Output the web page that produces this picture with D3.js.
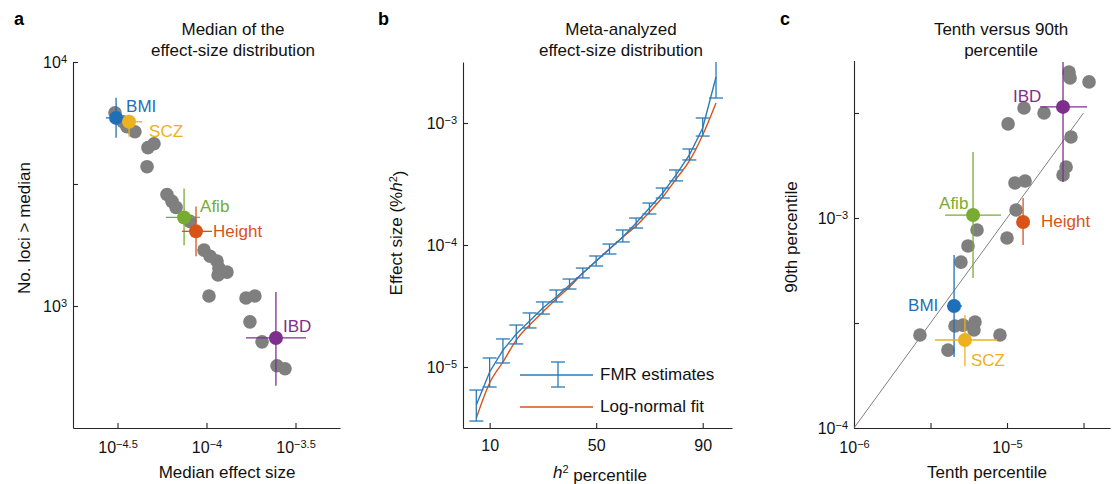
<!DOCTYPE html>
<html><head><meta charset="utf-8">
<script src="https://cdn.jsdelivr.net/npm/d3@7"></script>
<style>
html,body{margin:0;padding:0;background:#fff;}
svg{display:block;}
text{font-family:"Liberation Sans",Arial,Helvetica,sans-serif;}
</style></head>
<body>
<svg id="chart" width="1113" height="484"></svg>
<script>
// ---------------- DATA (log10 values) ----------------
// Panel a: median effect size (x) vs number of loci > median (y)
const aGrayX = [-4.514,-4.469,-4.447,-4.402,-4.329,-4.295,-4.334,-4.222,-4.194,-4.171,-4.093,-4.014,-3.980,-3.941,-3.930,-3.935,-3.885,-3.986,-3.778,-3.728,-3.756,-3.688,-3.604,-3.559];
const aGrayY = [3.792,3.755,3.735,3.714,3.649,3.665,3.571,3.457,3.429,3.404,3.347,3.229,3.204,3.184,3.155,3.127,3.139,3.041,3.033,3.041,2.935,2.853,2.755,2.743];
const traits = ["BMI","SCZ","Afib","Height","IBD"];
const aTraitX   = [-4.508,-4.435,-4.126,-4.059,-3.610];
const aTraitY   = [3.771,3.755,3.363,3.306,2.869];
const aTraitXLo = [-4.565,-4.475,-4.228,-4.138,-3.778];
const aTraitXHi = [-4.463,-4.362,-4.037,-3.969,-3.441];
const aTraitYLo = [3.690,3.694,3.249,3.204,2.673];
const aTraitYHi = [3.853,3.784,3.482,3.408,3.057];
const aXTicks = ["-4.5","-4","-3.5"];
const aYTicks = ["3","3.5","4"];
const aYTickLabels = ["3","","4"];

// Panel b: meta-analyzed effect-size distribution
const bPct    = [5,10,15,20,25,30,35,40,45,50,55,60,65,70,75,80,85,90,95];
const bFmr    = [-5.311,-5.041,-4.861,-4.730,-4.623,-4.516,-4.426,-4.328,-4.230,-4.131,-4.033,-3.934,-3.820,-3.697,-3.574,-3.426,-3.262,-3.041,-2.623];
const bFmrLo  = [-5.443,-5.164,-4.967,-4.811,-4.680,-4.566,-4.467,-4.361,-4.270,-4.172,-4.074,-3.975,-3.861,-3.746,-3.615,-3.475,-3.303,-3.107,-2.795];
const bFmrHi  = [-5.189,-4.926,-4.770,-4.656,-4.557,-4.467,-4.369,-4.279,-4.189,-4.090,-3.992,-3.877,-3.779,-3.656,-3.533,-3.385,-3.213,-2.959,-2.400];
const bFit    = [-5.418,-5.131,-4.959,-4.779,-4.656,-4.549,-4.443,-4.344,-4.230,-4.131,-4.033,-3.934,-3.844,-3.730,-3.607,-3.459,-3.311,-3.098,-2.836];
const bXTicks = [10,50,90];
const bYTicks = ["-5","-4","-3"];
const bLegend = ["FMR estimates","Log-normal fit"];

// Panel c: tenth vs 90th percentile
const cGrayX = [-4.595,-4.588,-4.464,-4.889,-4.758,-4.993,-4.582,-4.614,-4.634,-4.948,-4.882,-4.941,-5.196,-5.000,-5.255,-5.301,-5.340,-5.288,-5.209,-5.216,-5.569,-5.046,-5.386];
const cGrayY = [-2.305,-2.333,-2.352,-2.476,-2.500,-2.552,-2.614,-2.757,-2.795,-2.833,-2.824,-2.962,-3.057,-3.095,-3.133,-3.210,-3.514,-3.510,-3.495,-3.533,-3.557,-3.557,-3.629];
const cTraitX   = [-5.346,-5.275,-5.222,-4.895,-4.634];
const cTraitY   = [-3.419,-3.581,-2.986,-3.019,-2.471];
const cTraitXLo = [-5.392,-5.471,-5.405,-4.915,-4.784];
const cTraitXHi = [-5.294,-5.065,-5.039,-4.875,-4.477];
const cTraitYLo = [-3.662,-3.705,-3.286,-3.129,-2.829];
const cTraitYHi = [-3.176,-3.462,-2.686,-2.905,-2.257];
const cDiagX = [-6,-4.5];
const cDiagY = [-4,-2.5];
const cXTicks = ["-6","-5.5","-5","-4.5"];
const cXTickLabels = ["-6","","-5",""];
const cYTicks = ["-4","-3.5","-3","-2.5"];
const cYTickLabels = ["-4","","-3",""];

// ---------------- STYLE ----------------
const traitColors = {BMI:"#1f6fb8", SCZ:"#edb120", Afib:"#77ac30", Height:"#d95319", IBD:"#7e2f8e"};
const grayColor = "#7f7f7f";
const axisColor = "#262626";
const blue = "#2b7bb7", red = "#d95319";
const P = v => Math.pow(10, +v);
const svg = d3.select("#chart");

function sup(sel, base, exp){
  sel.text(null);
  sel.append("tspan").text(base);
  if (exp !== "") sel.append("tspan").attr("dy","-0.45em").attr("font-size","11px").text(exp.replace("-","\u2212"));
}
function styleAxis(g){
  g.select(".domain").attr("stroke",axisColor).attr("stroke-width",1.1);
  g.selectAll(".tick line").attr("stroke",axisColor).attr("stroke-width",1.1);
  g.selectAll(".tick text").attr("fill","#111").attr("font-size","16px").attr("font-family","Liberation Sans, Arial, sans-serif");
}
function logXAxis(g, scale, ticks, labels){
  g.call(d3.axisBottom(scale).tickValues(ticks.map(P)).tickSize(-5).tickSizeOuter(0).tickFormat(()=>""));
  styleAxis(g);
  g.selectAll(".tick text").attr("y",25).attr("dy",null).each(function(d,i){ if(labels[i]==="") d3.select(this).text(""); else sup(d3.select(this),"10",labels[i]); });
}
function logYAxis(g, scale, ticks, labels){
  g.call(d3.axisLeft(scale).tickValues(ticks.map(P)).tickSize(-5).tickSizeOuter(0).tickPadding(6).tickFormat(()=>""));
  styleAxis(g);
  g.selectAll(".tick text").each(function(d,i){ if(labels[i]==="") d3.select(this).text(""); else sup(d3.select(this),"10",labels[i]); });
}
function title(x, lines){
  lines.forEach((t,i)=> svg.append("text").attr("x",x).attr("y",35+i*21).attr("text-anchor","middle").attr("font-size","17px").attr("fill","#111").text(t));
}
function panelLabel(x, t){
  svg.append("text").attr("x",x).attr("y",25).attr("font-size","18px").attr("font-weight","bold").attr("fill","#000").text(t);
}
function yLabel(x, y, sel){
  const t = svg.append("text").attr("transform",`translate(${x},${y}) rotate(-90)`).attr("text-anchor","middle").attr("font-size","17px").attr("fill","#111");
  sel(t);
}
function xLabel(x, sel){
  const t = svg.append("text").attr("x",x).attr("y",478).attr("text-anchor","middle").attr("font-size","17px").attr("fill","#111");
  sel(t);
}
function traitLayer(g, xScale, yScale, X, Y, XLo, XHi, YLo, YHi, offsets){
  traits.forEach((tr,i)=>{
    const c = traitColors[tr];
    const cx = xScale(P(X[i])), cy = yScale(P(Y[i]));
    g.append("line").attr("x1",xScale(P(XLo[i]))).attr("x2",xScale(P(XHi[i]))).attr("y1",cy).attr("y2",cy).attr("stroke",c).attr("stroke-width",1.3);
    g.append("line").attr("x1",cx).attr("x2",cx).attr("y1",yScale(P(YLo[i]))).attr("y2",yScale(P(YHi[i]))).attr("stroke",c).attr("stroke-width",1.3);
    g.append("circle").attr("cx",cx).attr("cy",cy).attr("r",7).attr("fill",c);
    g.append("text").attr("x",cx+offsets[tr][0]).attr("y",cy+offsets[tr][1]).attr("font-size","17px").attr("fill",c).text(tr);
  });
}

// ---------------- PANEL A ----------------
{
  const x = d3.scaleLog().domain([P(-4.75),P(-3.25)]).range([73,340]);
  const y = d3.scaleLog().domain([P(2.5),P(4)]).range([428,62]);
  logXAxis(svg.append("g").attr("transform","translate(0,428)"), x, aXTicks, aXTicks);
  logYAxis(svg.append("g").attr("transform","translate(73,0)"), y, aYTicks, aYTickLabels);
  const g = svg.append("g");
  g.selectAll("circle.gray").data(aGrayX).join("circle").attr("class","gray")
    .attr("cx",(d)=>x(P(d))).attr("cy",(d,i)=>y(P(aGrayY[i]))).attr("r",6.8).attr("fill",grayColor);
  traitLayer(g, x, y, aTraitX, aTraitY, aTraitXLo, aTraitXHi, aTraitYLo, aTraitYHi,
    {BMI:[10,-6], SCZ:[20,15], Afib:[16,-5], Height:[17,6], IBD:[7,-6]});
  title(233, ["Median of the","effect-size distribution"]);
  panelLabel(14, "a");
  yLabel(30, 228, t=>t.text("No. loci > median"));
  xLabel(227, t=>t.text("Median effect size"));
}

// ---------------- PANEL B ----------------
{
  const x = d3.scaleLinear().domain([0,101]).range([463,732]);
  const y = d3.scaleLog().domain([P(-5.5),P(-2.5)]).range([428,62]);
  const gx = svg.append("g").attr("transform","translate(0,428)");
  gx.call(d3.axisBottom(x).tickValues(bXTicks).tickSize(-5).tickSizeOuter(0).tickPadding(12));
  styleAxis(gx);
  logYAxis(svg.append("g").attr("transform","translate(463,0)"), y, bYTicks, bYTicks);
  svg.append("clipPath").attr("id","clipb").append("rect").attr("x",463).attr("y",62).attr("width",280).attr("height",366);
  const g = svg.append("g").attr("clip-path","url(#clipb)");
  g.append("path").datum(bFit).attr("fill","none").attr("stroke",red).attr("stroke-width",1.4)
    .attr("d", d3.line().x((d,i)=>x(bPct[i])).y(d=>y(P(d))).curve(d3.curveMonotoneX));
  g.append("path").datum(bFmr).attr("fill","none").attr("stroke",blue).attr("stroke-width",1.4)
    .attr("d", d3.line().x((d,i)=>x(bPct[i])).y(d=>y(P(d))));
  const eb = g.selectAll("g.eb").data(bPct).join("g").attr("class","eb");
  eb.append("line").attr("x1",d=>x(d)).attr("x2",d=>x(d)).attr("y1",(d,i)=>y(P(bFmrLo[i]))).attr("y2",(d,i)=>y(P(bFmrHi[i]))).attr("stroke",blue).attr("stroke-width",1.3);
  eb.append("line").attr("x1",d=>x(d)-7).attr("x2",d=>x(d)+7).attr("y1",(d,i)=>y(P(bFmrLo[i]))).attr("y2",(d,i)=>y(P(bFmrLo[i]))).attr("stroke",blue).attr("stroke-width",1.3);
  eb.append("line").attr("x1",d=>x(d)-7).attr("x2",d=>x(d)+7).attr("y1",(d,i)=>y(P(bFmrHi[i]))).attr("y2",(d,i)=>y(P(bFmrHi[i]))).attr("stroke",blue).attr("stroke-width",1.3);
  // legend
  const lg = svg.append("g");
  lg.append("line").attr("x1",520).attr("x2",593).attr("y1",375).attr("y2",375).attr("stroke",blue).attr("stroke-width",1.4);
  lg.append("line").attr("x1",558).attr("x2",558).attr("y1",362).attr("y2",387).attr("stroke",blue).attr("stroke-width",1.3);
  lg.append("line").attr("x1",551).attr("x2",565).attr("y1",362).attr("y2",362).attr("stroke",blue).attr("stroke-width",1.3);
  lg.append("line").attr("x1",551).attr("x2",565).attr("y1",387).attr("y2",387).attr("stroke",blue).attr("stroke-width",1.3);
  lg.append("text").attr("x",600).attr("y",380).attr("font-size","17px").attr("fill","#111").text(bLegend[0]);
  lg.append("line").attr("x1",520).attr("x2",593).attr("y1",407).attr("y2",407).attr("stroke",red).attr("stroke-width",1.4);
  lg.append("text").attr("x",600).attr("y",412).attr("font-size","17px").attr("fill","#111").text(bLegend[1]);
  title(621, ["Meta-analyzed","effect-size distribution"]);
  panelLabel(378, "b");
  yLabel(402, 233, t=>{
    t.append("tspan").text("Effect size (%");
    t.append("tspan").attr("font-style","italic").text("h");
    t.append("tspan").attr("dy","-0.45em").attr("font-size","11px").text("2");
    t.append("tspan").attr("dy","0.45em").text(")");
  });
  xLabel(600, t=>{
    t.append("tspan").attr("font-style","italic").text("h");
    t.append("tspan").attr("dy","-0.45em").attr("font-size","11px").text("2");
    t.append("tspan").attr("dy","0.45em").text(" percentile");
  });
}

// ---------------- PANEL C ----------------
{
  const x = d3.scaleLog().domain([P(-6),P(-4.327)]).range([854,1110]);
  const y = d3.scaleLog().domain([P(-4),P(-2.25)]).range([428,60.5]);
  logXAxis(svg.append("g").attr("transform","translate(0,428)"), x, cXTicks, cXTickLabels);
  logYAxis(svg.append("g").attr("transform","translate(854,0)"), y, cYTicks, cYTickLabels);
  const g = svg.append("g");
  g.append("line").attr("x1",x(P(cDiagX[0]))).attr("y1",y(P(cDiagY[0]))).attr("x2",x(P(cDiagX[1]))).attr("y2",y(P(cDiagY[1])))
    .attr("stroke","#808080").attr("stroke-width",1);
  g.selectAll("circle.gray").data(cGrayX).join("circle").attr("class","gray")
    .attr("cx",d=>x(P(d))).attr("cy",(d,i)=>y(P(cGrayY[i]))).attr("r",6.8).attr("fill",grayColor);
  traitLayer(g, x, y, cTraitX, cTraitY, cTraitXLo, cTraitXHi, cTraitYLo, cTraitYHi,
    {BMI:[-46,5], SCZ:[6,26], Afib:[-34,-6], Height:[18,5], IBD:[-50,-5]});
  title(1001, ["Tenth versus 90th","percentile"]);
  panelLabel(780, "c");
  yLabel(797, 237, t=>t.text("90th percentile"));
  xLabel(987, t=>t.text("Tenth percentile"));
}
</script>
</body></html>
